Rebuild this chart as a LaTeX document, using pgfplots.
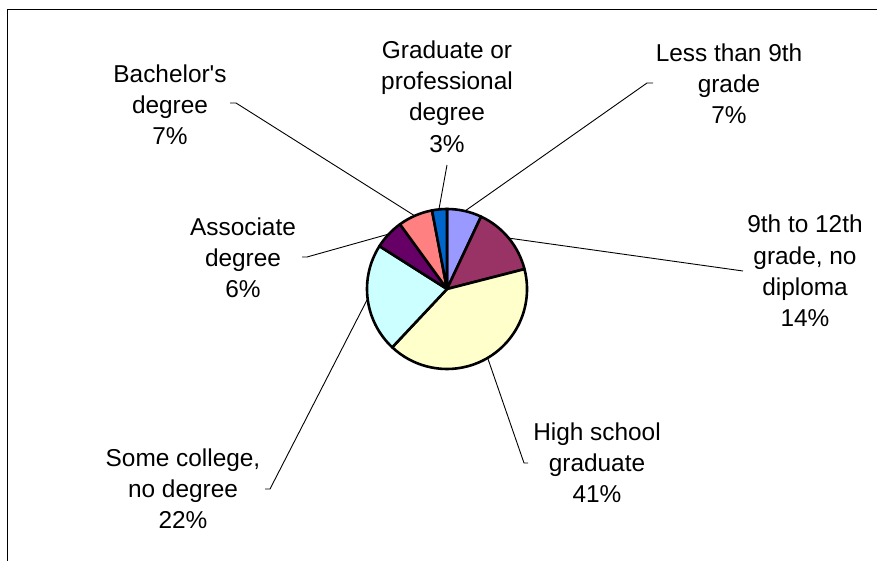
\documentclass[border=0pt]{standalone}
\usepackage{pgfplots}
\pgfplotsset{compat=1.18}
\usepackage{fontspec}
\setmainfont{Liberation Sans}

\definecolor{c1}{HTML}{9999FF}
\definecolor{c2}{HTML}{993366}
\definecolor{c3}{HTML}{FFFFCC}
\definecolor{c4}{HTML}{CCFFFF}
\definecolor{c5}{HTML}{660066}
\definecolor{c6}{HTML}{FF8080}
\definecolor{c7}{HTML}{0066CC}

\newcommand\lbl{\fontsize{12.2}{15.6}\selectfont}
% slice: start (cumulative %), value (%), colour; pie centre in pixel coords
\newcommand\slice[3]{%
  \filldraw[fill=#3, draw=black, line width=1.3pt, line join=round]
    (axis cs:447,289) -- ++({90-3.6*#1}:40pt)
    arc[start angle={90-3.6*#1}, delta angle={-3.6*#2}, radius=40pt] -- cycle;}

\begin{document}
\begin{tikzpicture}
\begin{axis}[
    x=0.5pt, y=0.5pt,
    xmin=0, xmax=877, ymin=0, ymax=561,
    y dir=reverse,
    disabledatascaling,
    hide axis, clip=false,
    anchor=south west, at={(0,0)},
]

% chart area frame (only top and left edges visible)
\addplot[black, line width=0.5pt] coordinates {(7,561) (7,10) (877,10)};

% slices, clockwise from the top
\slice{0}{7}{c1}
\slice{7}{14}{c2}
\slice{21}{41}{c3}
\slice{62}{22}{c4}
\slice{84}{6}{c5}
\slice{90}{7}{c6}
\slice{97}{3}{c7}

% leader lines
\addplot[black, line width=0.45pt] coordinates {(465,211) (647,83) (653,83)};
\addplot[black, line width=0.45pt] coordinates {(508,238) (743,271)};
\addplot[black, line width=0.45pt] coordinates {(488,359) (524,463) (528,463)};
\addplot[black, line width=0.45pt] coordinates {(367,300) (270,489) (265,489)};
\addplot[black, line width=0.45pt] coordinates {(389,234) (307,257) (302,257)};
\addplot[black, line width=0.45pt] coordinates {(415,216) (236,103) (230,103)};
\addplot[black, line width=0.45pt] coordinates {(439,209) (447,165)};

% labels
\node[align=center, font=\lbl] at (axis cs:729,84) {Less than 9th\\grade\\7\%};
\node[align=center, font=\lbl] at (axis cs:805,271) {9th to 12th\\grade, no\\diploma\\14\%};
\node[align=center, font=\lbl] at (axis cs:597,463) {High school\\graduate\\41\%};
\node[align=center, font=\lbl] at (axis cs:183,489) {Some college,\\no degree\\22\%};
\node[align=center, font=\lbl] at (axis cs:243,258) {Associate\\degree\\6\%};
\node[align=center, font=\lbl] at (axis cs:170,105) {Bachelor\textquotesingle s\\degree\\7\%};
\node[align=center, font=\lbl] at (axis cs:447,96.5) {Graduate or\\professional\\degree\\3\%};

\end{axis}
\pgfresetboundingbox
\useasboundingbox (0,0) rectangle (438.5pt,280.5pt);
\end{tikzpicture}
\end{document}
